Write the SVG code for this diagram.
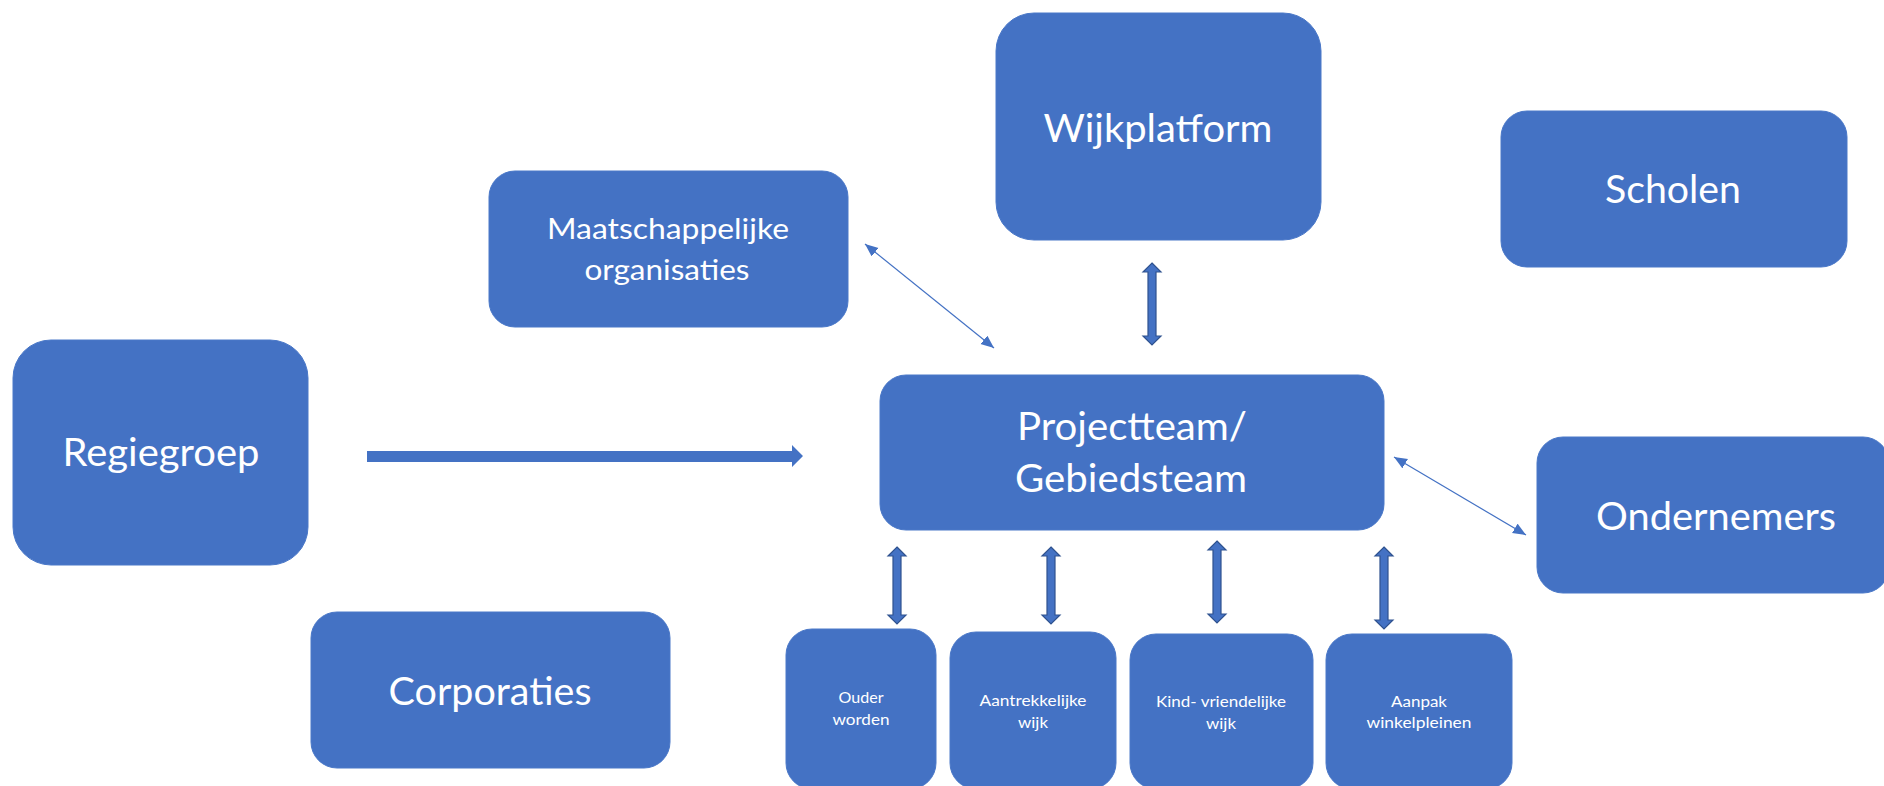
<svg xmlns="http://www.w3.org/2000/svg" width="1884" height="786" viewBox="0 0 1884 786">
<style>
.box{fill:#4472C4;stroke:#4a78c8;stroke-width:1}
.t{fill:#ffffff;font-family:"Lato","Liberation Sans",sans-serif;text-anchor:middle}
.big{font-size:38px}
.mid{font-size:28px}
.sm{font-size:16px}
.thin{stroke:#4472C4;stroke-width:1.2;fill:none;marker-start:url(#ah);marker-end:url(#ah)}
.dbl{fill:#4472C4;stroke:#2F528F;stroke-width:1.2;stroke-linejoin:miter}
.blk{fill:#4472C4}
</style>
<defs>
<marker id="ah" markerUnits="userSpaceOnUse" markerWidth="14" markerHeight="12" refX="13" refY="5.5" orient="auto-start-reverse">
<path d="M0,0 L13,5.5 L0,11 Z" fill="#4472C4"/>
</marker>
</defs>
<rect width="1884" height="786" fill="#ffffff"/>

<g id="wijkplatform">
<rect class="box" x="996" y="13" width="325" height="227" rx="38" ry="38"/>
<text class="t big" x="1158" y="142" textLength="229" lengthAdjust="spacingAndGlyphs">Wijkplatform</text>
</g>
<g id="scholen">
<rect class="box" x="1501" y="111" width="346" height="156" rx="26" ry="26"/>
<text class="t big" x="1673" y="203" textLength="136" lengthAdjust="spacingAndGlyphs">Scholen</text>
</g>
<g id="maatschappelijke">
<rect class="box" x="489" y="171" width="359" height="156" rx="26" ry="26"/>
<text class="t mid" x="668" y="239" textLength="242" lengthAdjust="spacingAndGlyphs">Maatschappelijke</text>
<text class="t mid" x="667" y="280" textLength="165" lengthAdjust="spacingAndGlyphs">organisaties</text>
</g>
<g id="regiegroep">
<rect class="box" x="13" y="340" width="295" height="225" rx="38" ry="38"/>
<text class="t big" x="161" y="466" textLength="197" lengthAdjust="spacingAndGlyphs">Regiegroep</text>
</g>
<g id="projectteam">
<rect class="box" x="880" y="375" width="504" height="155" rx="26" ry="26"/>
<text class="t big" x="1132" y="440" textLength="230" lengthAdjust="spacingAndGlyphs">Projectteam/</text>
<text class="t big" x="1131" y="492" textLength="232" lengthAdjust="spacingAndGlyphs">Gebiedsteam</text>
</g>
<g id="ondernemers">
<rect class="box" x="1537" y="437" width="352" height="156" rx="26" ry="26"/>
<text class="t big" x="1716" y="530" textLength="240" lengthAdjust="spacingAndGlyphs">Ondernemers</text>
</g>
<g id="corporaties">
<rect class="box" x="311" y="612" width="359" height="156" rx="26" ry="26"/>
<text class="t big" x="490" y="705" textLength="203" lengthAdjust="spacingAndGlyphs">Corporaties</text>
</g>
<g id="ouder-worden">
<rect class="box" x="786" y="629" width="150" height="160" rx="26" ry="26"/>
<text class="t sm" x="861" y="703" textLength="45" lengthAdjust="spacingAndGlyphs">Ouder</text>
<text class="t sm" x="861" y="725" textLength="57" lengthAdjust="spacingAndGlyphs">worden</text>
</g>
<g id="aantrekkelijke-wijk">
<rect class="box" x="950" y="632" width="166" height="157" rx="26" ry="26"/>
<text class="t sm" x="1033" y="706" textLength="107" lengthAdjust="spacingAndGlyphs">Aantrekkelijke</text>
<text class="t sm" x="1033" y="728" textLength="30" lengthAdjust="spacingAndGlyphs">wijk</text>
</g>
<g id="kindvriendelijke-wijk">
<rect class="box" x="1130" y="634" width="183" height="155" rx="26" ry="26"/>
<text class="t sm" x="1221" y="707" textLength="130" lengthAdjust="spacingAndGlyphs">Kind- vriendelijke</text>
<text class="t sm" x="1221" y="729" textLength="30" lengthAdjust="spacingAndGlyphs">wijk</text>
</g>
<g id="aanpak-winkelpleinen">
<rect class="box" x="1326" y="634" width="186" height="155" rx="26" ry="26"/>
<text class="t sm" x="1419" y="707" textLength="56" lengthAdjust="spacingAndGlyphs">Aanpak</text>
<text class="t sm" x="1419" y="728" textLength="105" lengthAdjust="spacingAndGlyphs">winkelpleinen</text>
</g>

<g id="connectors">
<path class="blk" d="M367,451 L792,451 L792,445 L803,456 L792,467 L792,462 L367,462 Z"/>
<line class="thin" x1="865" y1="244" x2="994" y2="348"/>
<line class="thin" x1="1394" y1="457" x2="1526" y2="535"/>
<path class="dbl" d="M1152,263 L1161,272 L1156,272 L1156,336 L1161,336 L1152,345 L1143,336 L1148,336 L1148,272 L1143,272 Z"/>
<path class="dbl" d="M897,547 L906,556 L901,556 L901,615 L906,615 L897,624 L888,615 L893,615 L893,556 L888,556 Z"/>
<path class="dbl" d="M1051,547 L1060,556 L1055,556 L1055,615 L1060,615 L1051,624 L1042,615 L1047,615 L1047,556 L1042,556 Z"/>
<path class="dbl" d="M1217,541 L1226,550 L1221,550 L1221,614 L1226,614 L1217,623 L1208,614 L1213,614 L1213,550 L1208,550 Z"/>
<path class="dbl" d="M1384,547 L1393,556 L1388,556 L1388,620 L1393,620 L1384,629 L1375,620 L1380,620 L1380,556 L1375,556 Z"/>
</g>
</svg>
